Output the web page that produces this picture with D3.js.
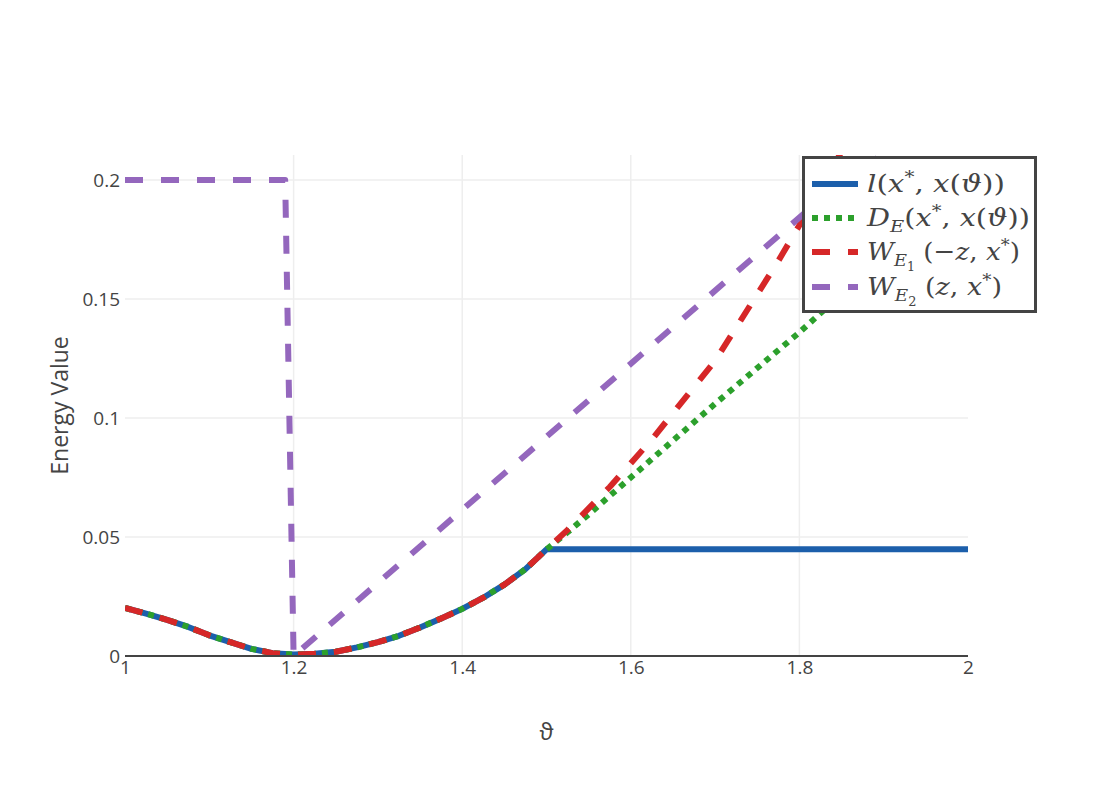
<!DOCTYPE html>
<html><head><meta charset="utf-8">
<script src="https://cdn.jsdelivr.net/npm/d3@7/dist/d3.min.js"></script>
<style>body{margin:0;background:#fff}svg{display:block}</style>
</head><body><svg id="c" width="1103" height="790"></svg>
<script>
// ---- data ----
const baseTheta = [1.000,1.025,1.050,1.075,1.100,1.125,1.150,1.175,1.200,1.225,1.250,1.275,1.300,1.325,1.350,1.375,1.400,1.425,1.450,1.475,1.500];
const baseVals  = [0.0202,0.0178,0.0152,0.0122,0.0087,0.0058,0.0030,0.0012,0.0006,0.0009,0.0018,0.0036,0.0058,0.0085,0.0120,0.0158,0.0198,0.0245,0.0300,0.0365,0.0448];
const lTailTheta = [2.0];
const lTailVals  = [0.0448];
const dTailTheta = [1.525,1.55,1.6,1.65,1.7,1.75,1.8,1.85,1.9,1.95,2.0];
const dTailVals  = [0.052,0.0595,0.075,0.0905,0.106,0.121,0.136,0.152,0.167,0.183,0.198];
const w1TailTheta = [1.525,1.55,1.575,1.6,1.625,1.65,1.675,1.7,1.725,1.75,1.775,1.8,1.825,1.85,1.875];
const w1TailVals  = [0.053,0.062,0.071,0.081,0.091,0.102,0.113,0.124,0.138,0.152,0.166,0.181,0.196,0.212,0.228];
const w2Theta = [1.0,1.19,1.2,2.0];
const w2Vals  = [0.2,0.2,0,0.2456];
const xTicks = [1,1.2,1.4,1.6,1.8,2];
const yTicks = [0,0.05,0.1,0.15,0.2];
const yTickLabels = ["0","0.05","0.1","0.15","0.2"];

const zip = (a,b)=>a.map((v,i)=>[v,b[i]]);
const series = [
  {name:"l", pts: zip(baseTheta.concat(lTailTheta), baseVals.concat(lTailVals)), color:"#1c5fab", dash:null},
  {name:"D", pts: zip(baseTheta.concat(dTailTheta), baseVals.concat(dTailVals)), color:"#2ca02c", dash:"6,6"},
  {name:"W1", pts: zip(baseTheta.concat(w1TailTheta), baseVals.concat(w1TailVals)), color:"#d62728", dash:"18,18"},
  {name:"W2", pts: zip(w2Theta, w2Vals), color:"#9467bd", dash:"18,18"}
];

// ---- layout ----
const L=125, R=968, T=155, B=656;
const svg = d3.select("#c");
const x = d3.scaleLinear().domain([1,2]).range([L,R]);
const y = d3.scaleLinear().domain([0,0.2105]).range([B,T]);
const font = "'Open Sans', sans-serif";

// grid
svg.append("g").selectAll("line").data(xTicks.filter(d=>d>1&&d<2)).join("line")
  .attr("x1",d=>x(d)).attr("x2",d=>x(d)).attr("y1",T).attr("y2",B)
  .attr("stroke","#eeeeee").attr("stroke-width",1.5);
svg.append("g").selectAll("line").data(yTicks.slice(1)).join("line")
  .attr("x1",L).attr("x2",R).attr("y1",d=>y(d)).attr("y2",d=>y(d))
  .attr("stroke","#eeeeee").attr("stroke-width",1.5);

// axes
const xAxis = d3.axisBottom(x).tickValues(xTicks).tickSize(0).tickFormat(d3.format("~g"));
const gx = svg.append("g").attr("transform",`translate(0,${B})`).call(xAxis);
gx.select(".domain").remove();
gx.selectAll("text").attr("font-family",font).attr("font-size",19).attr("fill","#444").attr("dy","0.78em");

const yAxis = d3.axisLeft(y).tickValues(yTicks).tickSize(0).tickFormat((d,i)=>yTickLabels[i]);
const gy = svg.append("g").attr("transform",`translate(${L-2},0)`).call(yAxis);
gy.select(".domain").remove();
gy.selectAll("text").attr("font-family",font).attr("font-size",19).attr("fill","#444");

// clip
svg.append("clipPath").attr("id","clip").append("rect").attr("x",L).attr("y",T).attr("width",R-L).attr("height",B-T);

const line = d3.line().x(d=>x(d[0])).y(d=>y(d[1]));
const gl = svg.append("g").attr("clip-path","url(#clip)");
series.forEach(s=>{
  gl.append("path").attr("d",line(s.pts)).attr("fill","none")
    .attr("stroke",s.color).attr("stroke-width",6)
    .attr("stroke-dasharray",s.dash).attr("stroke-linejoin","round");
});

// x axis line
svg.append("line").attr("x1",L).attr("x2",R).attr("y1",B).attr("y2",B).attr("stroke","#444").attr("stroke-width",2);

// axis titles
svg.append("text").attr("x",(L+R)/2).attr("y",740).attr("text-anchor","middle")
  .attr("font-family",font).attr("font-size",23).attr("fill","#444").text("ϑ");
svg.append("text").attr("transform",`translate(68,${(T+B)/2}) rotate(-90)`).attr("text-anchor","middle")
  .attr("font-family",font).attr("font-size",23).attr("fill","#444").text("Energy Value");

// legend
const lg = svg.append("g");
lg.append("rect").attr("x",803.5).attr("y",157.5).attr("width",232).attr("height",154)
  .attr("fill","#fff").attr("stroke","#444").attr("stroke-width",3);
const rows = [
  {y:184, w:138, segs:[{t:"l",i:1},{t:"("},{t:"x",i:1},{t:"*",sup:1},{t:", "},{t:"x",i:1},{t:"("},{t:"ϑ",i:1},{t:"))"}]},
  {y:218, w:163, segs:[{t:"D",i:1},{t:"E",i:1,sub:1},{t:"("},{t:"x",i:1},{t:"*",sup:1},{t:", "},{t:"x",i:1},{t:"("},{t:"ϑ",i:1},{t:"))"}]},
  {y:252, w:153, segs:[{t:"W",i:1},{t:"E",i:1,sub:1},{t:"1",sub2:1},{t:" ("},{t:"−",},{t:"z",i:1},{t:", "},{t:"x",i:1},{t:"*",sup:1},{t:")"}]},
  {y:287, w:135, segs:[{t:"W",i:1},{t:"E",i:1,sub:1},{t:"2",sub2:1},{t:" ("},{t:"z",i:1},{t:", "},{t:"x",i:1},{t:"*",sup:1},{t:")"}]}
];
rows.forEach((r,k)=>{
  const s = series[k];
  lg.append("line").attr("x1",812).attr("x2",858).attr("y1",r.y).attr("y2",r.y)
    .attr("stroke",s.color).attr("stroke-width",6).attr("stroke-dasharray",s.dash);
  const t = lg.append("text").attr("x",867).attr("y",r.y+8)
    .attr("font-family","'DejaVu Serif', serif").attr("font-size",25).attr("fill","#444")
    .attr("textLength",r.w).attr("lengthAdjust","spacingAndGlyphs");
  let shift=0;
  r.segs.forEach(sg=>{
    const ts = t.append("tspan").text(sg.t);
    if(sg.i) ts.attr("font-style","italic");
    let target=0;
    if(sg.sub){ts.attr("font-size",17); target=6;}
    else if(sg.sub2){ts.attr("font-size",12); target=11;}
    else if(sg.sup){ts.attr("font-size",17); target=-9;}
    ts.attr("dy",target-shift); shift=target;
  });
});
</script></body></html>
